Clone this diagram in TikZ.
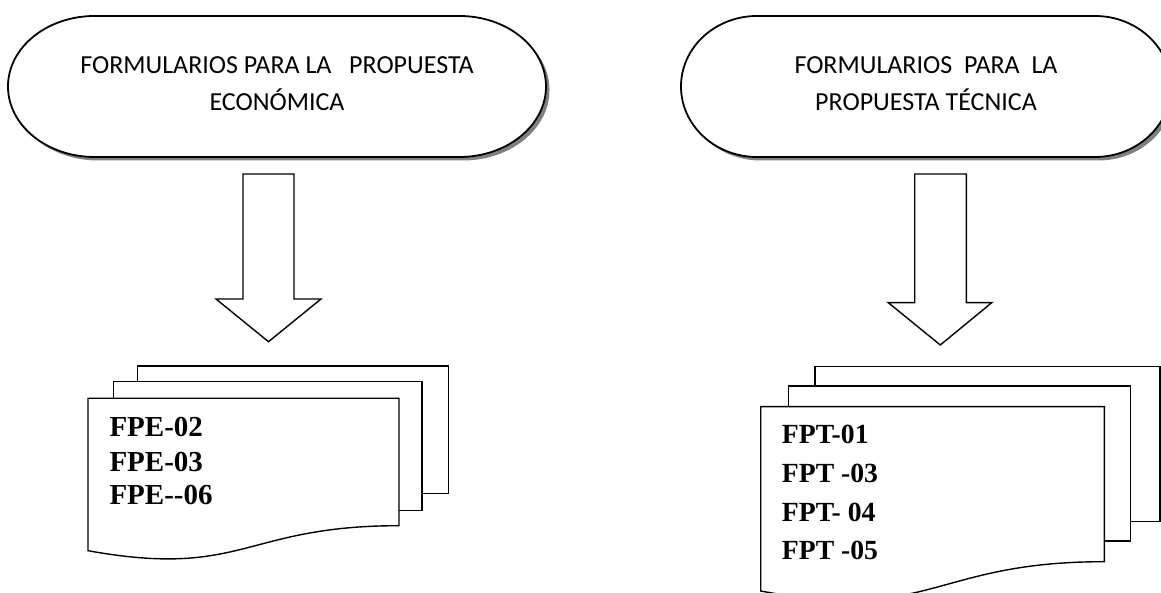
\documentclass[tikz,border=0pt]{standalone}
\usepackage{fontspec}
\setmainfont{Liberation Serif}
\newfontfamily\calibri{Carlito}
\usetikzlibrary{shadows}

\tikzset{
	terminal/.style={draw=black, line width=1.8pt, fill=white, drop shadow={shadow xshift=3.5pt, shadow yshift=-3.5pt, fill=black!50, opacity=1}},
	hoja/.style={draw=black, line width=1.4pt, fill=white},
	flecha/.style={draw=black, line width=1.4pt, fill=white},
	titulo/.style={font=\calibri\fontsize{26}{37}\selectfont, align=center, inner sep=0pt},
	codigo/.style={font=\fontsize{29}{34}\selectfont\bfseries, anchor=base west, inner sep=0pt}
}

\begin{document}
\begin{tikzpicture}[x=1pt, y=1pt]
	\useasboundingbox (0,0) rectangle (1161,593);
	\clip (0,0) rectangle (1161,593);
	% terminales
	\path[terminal] (94.6,577) -- (459.4,577) arc[start angle=90, end angle=-90, x radius=86.6, y radius=70.5] -- (94.6,436) arc[start angle=270, end angle=90, x radius=86.6, y radius=70.5] -- cycle;
	\path[terminal] (757,577) -- (1095,577) arc[start angle=90, end angle=-90, x radius=76, y radius=70.5] -- (757,436) arc[start angle=270, end angle=90, x radius=76, y radius=70.5] -- cycle;
	\node[titulo, anchor=base] (tecoA) at (277,519) {FORMULARIOS PARA LA\ \ \ PROPUESTA};
	\node[titulo, anchor=base] (tecoB) at (277,482) {ECONÓMICA};
	\node[titulo, anchor=base] (ttecA) at (926,519) {FORMULARIOS\ \ PARA\ \ LA};
	\node[titulo, anchor=base] (ttecB) at (926,482) {PROPUESTA TÉCNICA};
	% flechas
	\path[flecha] (243,419) -- (294,419) -- (294,294) -- (321,294) -- (268.5,251.3) -- (216,294) -- (243,294) -- cycle;
	\path[flecha] (914.7,419) -- (966.3,419) -- (966.3,290.3) -- (991.7,290.3) -- (940.3,248) -- (888.3,290.3) -- (914.7,290.3) -- cycle;
	% documentos economica
	\path[hoja] (137.7,99.7) rectangle (448.3,227);
	\path[hoja] (113.3,82.3) rectangle (422,211.3);
	\path[hoja] (88,194.7) -- (399,194.7) -- (399,67.3) .. controls (243.5,67.3) and (243.5,14.2) .. (88,42.3) -- cycle;
	\node[codigo] (fpe2) at (109.3,156.3) {FPE-02};
	\node[codigo] (fpe3) at (109.3,121.3) {FPE-03};
	\node[codigo] (fpe6) at (109.3,88) {FPE-{}-06};
	% documentos tecnica
	\path[hoja] (815,71.3) rectangle (1160,226.3);
	\path[hoja] (788.7,52) rectangle (1130.7,207);
	\path[hoja] (760.7,186.3) -- (1104.3,186.3) -- (1104.3,31.3) .. controls (932.5,31.3) and (932.5,-30) .. (760.7,2) -- cycle;
	\node[codigo, font=\fontsize{27.7}{34}\selectfont\bfseries] (fpt1) at (781.7,149) {FPT-01};
	\node[codigo, font=\fontsize{27.7}{34}\selectfont\bfseries] (fpt3) at (781.7,110.3) {FPT -03};
	\node[codigo, font=\fontsize{27.7}{34}\selectfont\bfseries] (fpt4) at (781.7,71.3) {FPT- 04};
	\node[codigo, font=\fontsize{27.7}{34}\selectfont\bfseries] (fpt5) at (781.7,33) {FPT -05};
\end{tikzpicture}
\end{document}
